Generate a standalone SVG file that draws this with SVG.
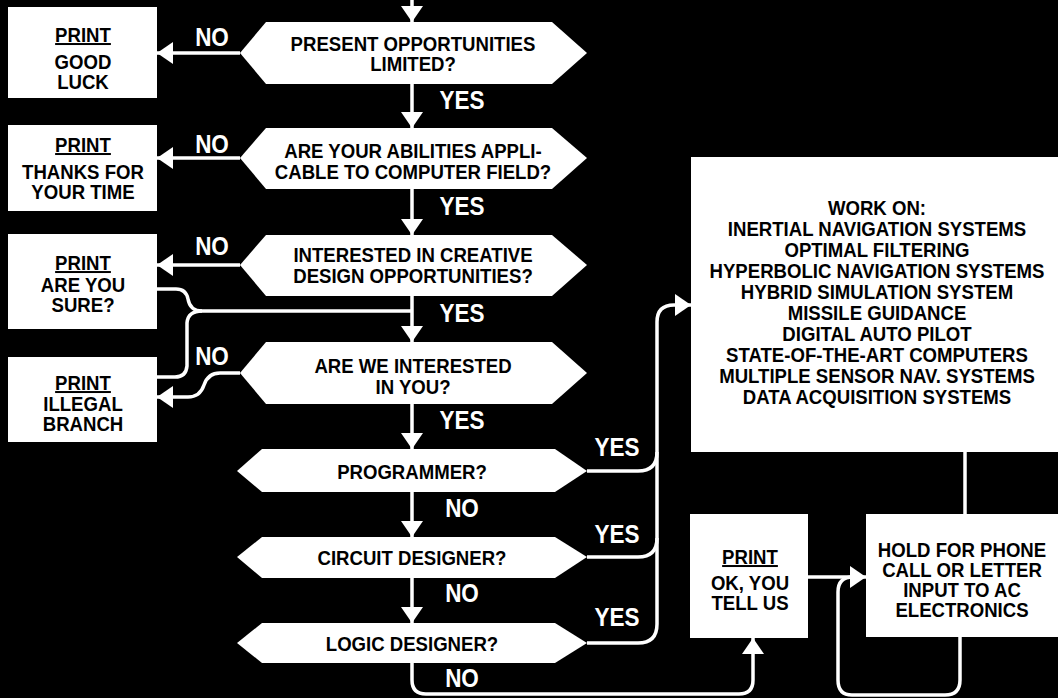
<svg xmlns="http://www.w3.org/2000/svg" width="1058" height="698" viewBox="0 0 1058 698">
<defs>
<style>
.n{fill:#fff}
.t,.l{font-family:"Liberation Sans",Arial,sans-serif;font-weight:bold;text-anchor:middle;transform-box:fill-box;transform-origin:center}
.t{font-size:20px;fill:#000;transform:scaleX(0.93)}
.u{text-decoration:underline}
.l{font-size:25px;fill:#fff;transform:scaleX(0.9)}
.c{stroke:#fff;stroke-width:3.5;fill:none}
.a{marker-end:url(#ah)}
</style>
<marker id="ah" viewBox="0 0 16 22" refX="16" refY="11" markerWidth="16" markerHeight="22" markerUnits="userSpaceOnUse" orient="auto">
<path d="M0,0 L16,11 L0,22 Z" fill="#fff"/>
</marker>
</defs>
<rect width="1058" height="698" fill="#000"/>

<g id="connectors">
<path class="c a" d="M412,0 V22"/>
<path class="c a" d="M412,84 V128"/>
<path class="c a" d="M412,189 V235"/>
<path class="c a" d="M412,296 V342"/>
<path class="c a" d="M412,404 V449"/>
<path class="c a" d="M412,492 V537"/>
<path class="c a" d="M412,578 V623"/>
<path class="c a" d="M412,663 V680 Q412,694 426,694 H739 Q753,694 753,680 V638"/>
<path class="c a" d="M240,53 H157"/>
<path class="c a" d="M240,158 H157"/>
<path class="c a" d="M240,265 H157"/>
<path class="c a" d="M240,373 H220 Q208,373 204,385 Q200,397 188,397 H157"/>
<path class="c" d="M157,289 H176 Q186,289 188,299 Q190,311 202,311 H412"/>
<path class="c" d="M202,311 Q188,311 187,323 V366 Q186,377 175,377 H157"/>
<path class="c a" d="M587,643 H638 Q657,643 657,624 V322 Q657,305 674,305 H691"/>
<path class="c" d="M587,557 H638 Q657,557 657,538"/>
<path class="c" d="M587,471 H638 Q657,471 657,452"/>
<path class="c a" d="M808,577 H866"/>
<path class="c" d="M960,637 V680 Q960,695 945,695 H852 Q838,695 838,680 V592 Q838,577 853,577"/>
<path class="c" d="M965,452 V514"/>
<text class="l" x="212" y="46">NO</text>
<text class="l" x="212" y="153">NO</text>
<text class="l" x="212" y="255">NO</text>
<text class="l" x="212" y="365">NO</text>
<text class="l" x="462" y="109">YES</text>
<text class="l" x="462" y="215">YES</text>
<text class="l" x="462" y="322">YES</text>
<text class="l" x="462" y="429">YES</text>
<text class="l" x="462" y="517">NO</text>
<text class="l" x="462" y="602">NO</text>
<text class="l" x="462" y="687">NO</text>
<text class="l" x="617" y="456">YES</text>
<text class="l" x="617" y="543">YES</text>
<text class="l" x="617" y="626">YES</text>
</g>

<g id="d1"><polygon class="n" points="240,53 266,22 552,22 587,53 552,84 266,84"/>
<text class="t" x="413" y="51">PRESENT OPPORTUNITIES</text><text class="t" x="413" y="71">LIMITED?</text></g>
<g id="d2"><polygon class="n" points="240,158 266,128 552,128 587,158 552,189 266,189"/>
<text class="t" x="413" y="158">ARE YOUR ABILITIES APPLI-</text><text class="t" x="413" y="179">CABLE TO COMPUTER FIELD?</text></g>
<g id="d3"><polygon class="n" points="240,265 266,235 552,235 587,265 552,296 266,296"/>
<text class="t" x="413" y="262">INTERESTED IN CREATIVE</text><text class="t" x="413" y="283">DESIGN OPPORTUNITIES?</text></g>
<g id="d4"><polygon class="n" points="240,373 266,342 552,342 587,373 552,404 266,404"/>
<text class="t" x="413" y="373">ARE WE INTERESTED</text><text class="t" x="413" y="394">IN YOU?</text></g>
<g id="d5"><polygon class="n" points="237,471 262,449 555,449 587,471 555,492 262,492"/>
<text class="t" x="412" y="479">PROGRAMMER?</text></g>
<g id="d6"><polygon class="n" points="237,557 262,537 555,537 587,557 555,578 262,578"/>
<text class="t" x="412" y="565">CIRCUIT DESIGNER?</text></g>
<g id="d7"><polygon class="n" points="237,643 262,623 555,623 587,643 555,663 262,663"/>
<text class="t" x="412" y="651">LOGIC DESIGNER?</text></g>

<g id="b1"><rect class="n" x="8" y="7" width="149" height="91"/>
<text class="t u" x="83" y="42">PRINT</text><text class="t" x="83" y="69">GOOD</text><text class="t" x="83" y="89">LUCK</text></g>
<g id="b2"><rect class="n" x="8" y="125" width="149" height="86"/>
<text class="t u" x="83" y="152">PRINT</text><text class="t" x="83" y="179">THANKS FOR</text><text class="t" x="83" y="199">YOUR TIME</text></g>
<g id="b3"><rect class="n" x="8" y="234" width="149" height="95"/>
<text class="t u" x="83" y="270">PRINT</text><text class="t" x="83" y="292">ARE YOU</text><text class="t" x="83" y="312">SURE?</text></g>
<g id="b4"><rect class="n" x="8" y="357" width="149" height="85"/>
<text class="t u" x="83" y="390">PRINT</text><text class="t" x="83" y="411">ILLEGAL</text><text class="t" x="83" y="431">BRANCH</text></g>

<g id="work"><rect class="n" x="691" y="157" width="380" height="295"/>
<text class="t" x="877" y="215">WORK ON:</text>
<text class="t" x="877" y="236">INERTIAL NAVIGATION SYSTEMS</text>
<text class="t" x="877" y="257">OPTIMAL FILTERING</text>
<text class="t" x="877" y="278">HYPERBOLIC NAVIGATION SYSTEMS</text>
<text class="t" x="877" y="299">HYBRID SIMULATION SYSTEM</text>
<text class="t" x="877" y="320">MISSILE GUIDANCE</text>
<text class="t" x="877" y="341">DIGITAL AUTO PILOT</text>
<text class="t" x="877" y="362">STATE-OF-THE-ART COMPUTERS</text>
<text class="t" x="877" y="383">MULTIPLE SENSOR NAV. SYSTEMS</text>
<text class="t" x="877" y="404">DATA ACQUISITION SYSTEMS</text></g>

<g id="ok"><rect class="n" x="690" y="514" width="118" height="124"/>
<text class="t u" x="750" y="564">PRINT</text><text class="t" x="750" y="590">OK, YOU</text><text class="t" x="750" y="610">TELL US</text></g>

<g id="hold"><rect class="n" x="866" y="514" width="200" height="123"/>
<text class="t" x="962" y="557">HOLD FOR PHONE</text><text class="t" x="962" y="577">CALL OR LETTER</text><text class="t" x="962" y="597">INPUT TO AC</text><text class="t" x="962" y="617">ELECTRONICS</text></g>
</svg>
